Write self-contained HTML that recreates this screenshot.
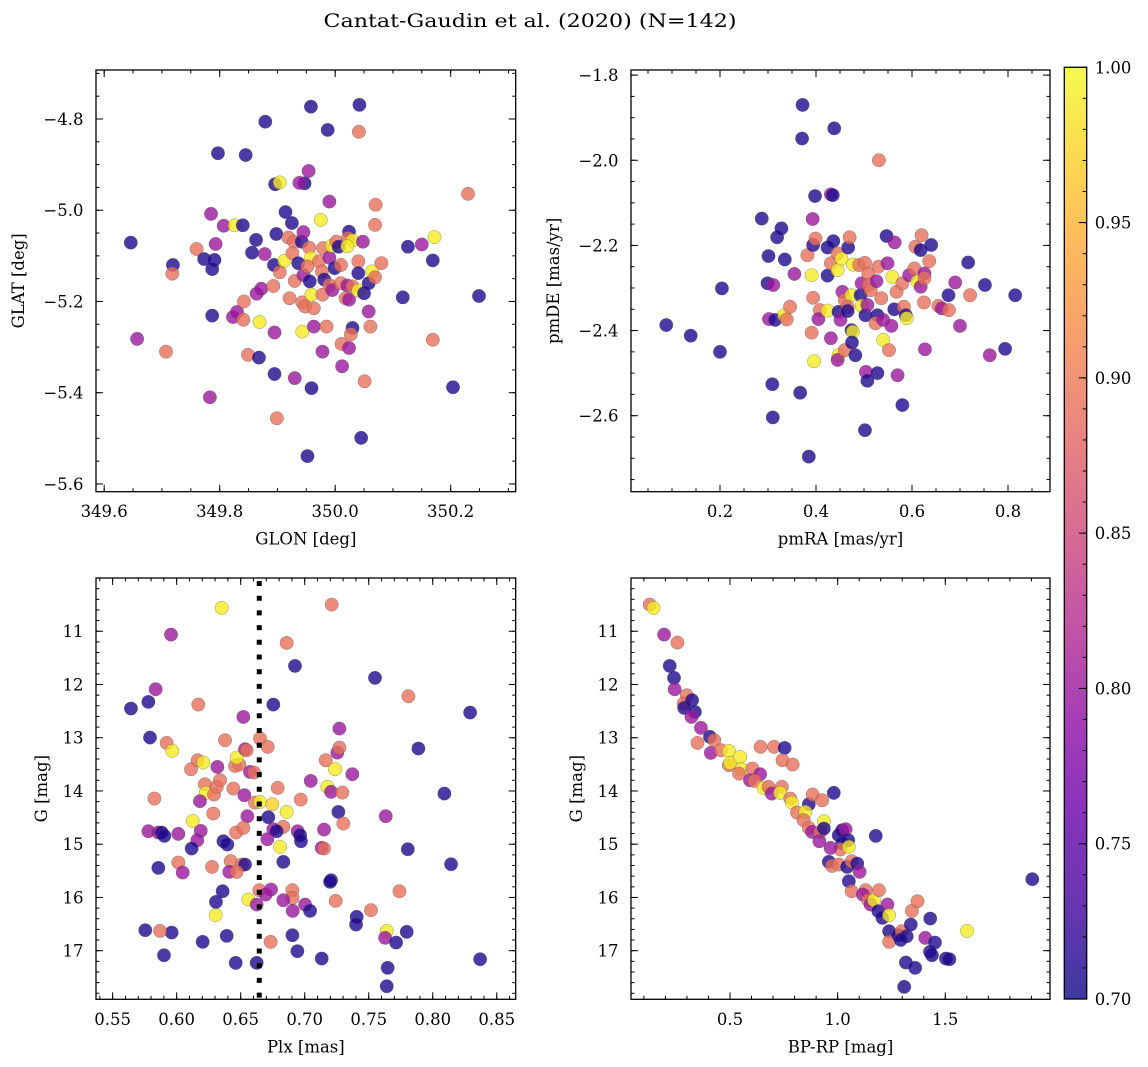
<!DOCTYPE html>
<html><head><meta charset="utf-8"><style>
html,body{margin:0;padding:0;background:#fff;}
svg{display:block;font-family:"DejaVu Serif","Liberation Serif",serif;}
</style></head><body>
<svg id="fig" width="1148" height="1067" viewBox="0 0 1148 1067" xmlns="http://www.w3.org/2000/svg">
<rect width="1148" height="1067" fill="#fff"/>
<text x="530" y="27" text-anchor="middle" font-size="18.5" textLength="413" lengthAdjust="spacingAndGlyphs">Cantat-Gaudin et al. (2020) (N=142)</text>
<defs>
<linearGradient id="plasmaGrad" x1="0" y1="1" x2="0" y2="0">
<stop offset="0" stop-color="#0d0887"/><stop offset="0.1" stop-color="#41049d"/><stop offset="0.2" stop-color="#6a00a8"/><stop offset="0.3" stop-color="#8f0da4"/><stop offset="0.4" stop-color="#b12a90"/><stop offset="0.5" stop-color="#cc4778"/><stop offset="0.6" stop-color="#e16462"/><stop offset="0.7" stop-color="#f2844b"/><stop offset="0.8" stop-color="#fca636"/><stop offset="0.9" stop-color="#fcce25"/><stop offset="1" stop-color="#f0f921"/>
</linearGradient>
</defs>
</svg>
<script>
// ---------- Panel 1 data: GLON / GLAT ----------
const glon = [349.646,349.719,349.718,349.657,349.707,349.760,349.773,349.791,349.787,349.793,
349.785,349.807,349.826,349.840,349.797,349.845,349.879,349.787,349.783,349.823,
349.830,349.841,349.842,349.849,349.863,349.856,349.878,349.864,349.872,349.869,
349.868,349.893,349.894,349.898,349.896,349.904,349.914,349.925,349.912,349.904,
349.919,349.929,349.926,349.930,349.936,349.942,349.945,349.947,349.938,349.954,
349.958,349.895,349.899,349.895,349.921,349.943,349.943,349.948,349.963,349.945,
349.955,349.958,349.952,349.956,349.959,349.963,349.959,349.952,349.930,349.972,
349.979,349.977,349.981,349.978,349.975,349.990,349.987,349.990,349.994,349.990,
349.995,349.985,349.978,350.002,350.006,349.999,350.010,350.010,350.011,350.012,
350.024,350.022,350.030,350.021,350.048,350.021,350.018,350.024,350.030,350.030,
350.027,350.024,350.040,350.040,350.040,350.050,350.058,350.064,350.069,350.080,
350.069,350.070,350.041,350.042,350.058,350.061,350.051,350.045,350.117,350.126,
350.150,350.172,350.169,350.169,350.204,350.230,350.249];
const glat = [-5.071,-5.120,-5.139,-5.282,-5.310,-5.085,-5.107,-5.109,-5.129,-5.074,
-5.008,-5.034,-5.033,-5.033,-4.875,-4.879,-4.806,-5.231,-5.410,-5.234,
-5.223,-5.240,-5.200,-5.317,-5.065,-5.093,-5.096,-5.183,-5.172,-5.245,
-5.323,-5.166,-5.120,-5.052,-4.943,-4.939,-5.004,-5.028,-5.111,-5.136,
-5.060,-5.069,-5.094,-5.155,-5.116,-5.069,-5.048,-4.941,-4.940,-4.914,
-4.773,-5.268,-5.456,-5.359,-5.193,-5.202,-5.266,-5.211,-5.215,-5.142,
-5.082,-5.104,-5.123,-5.156,-5.185,-5.255,-5.390,-5.539,-5.368,-5.112,
-5.083,-5.134,-5.152,-5.185,-5.021,-4.981,-4.824,-5.104,-5.078,-5.164,
-5.175,-5.255,-5.310,-5.069,-5.080,-5.127,-5.120,-5.160,-5.293,-5.342,
-5.047,-5.061,-5.066,-5.079,-5.069,-5.165,-5.193,-5.196,-5.167,-5.258,
-5.272,-5.302,-5.112,-5.138,-5.176,-5.182,-5.160,-5.134,-5.147,-5.116,
-5.032,-4.988,-4.828,-4.769,-5.222,-5.255,-5.375,-5.499,-5.191,-5.080,
-5.075,-5.059,-5.110,-5.284,-5.388,-4.964,-5.188];
const prob1 = [.71,.71,.89,.80,.89,.89,.71,.71,.71,.80,
.80,.80,.99,.71,.71,.71,.71,.71,.80,.80,
.80,.89,.89,.89,.71,.71,.80,.80,.80,.99,
.71,.89,.71,.71,.71,.99,.71,.71,.99,.89,
.89,.89,.89,.89,.71,.71,.80,.71,.80,.80,
.71,.80,.89,.71,.89,.89,.99,.89,.89,.80,
.89,.99,.89,.71,.99,.80,.71,.71,.80,.89,
.89,.89,.71,.89,.99,.80,.71,.80,.99,.89,
.80,.89,.80,.89,.71,.71,.89,.89,.89,.80,
.71,.89,.99,.99,.80,.80,.89,.80,.89,.71,
.89,.80,.89,.71,.99,.71,.71,.99,.89,.89,
.89,.89,.89,.71,.80,.89,.89,.71,.71,.71,
.80,.99,.71,.89,.71,.89,.71];
const glonTicks = [349.6,349.8,350.0,350.2];
const glatTicks = [-4.8,-5.0,-5.2,-5.4,-5.6];

// ---------- Panel 2 data: pmRA / pmDE ----------
const pmra = [0.088,0.139,0.200,0.204,0.287,0.301,0.319,0.328,0.335,0.299,
0.311,0.302,0.315,0.334,0.339,0.346,0.355,0.309,0.310,0.367,
0.372,0.371,0.385,0.382,0.391,0.394,0.399,0.394,0.391,0.396,
0.393,0.398,0.431,0.435,0.438,0.408,0.405,0.424,0.424,0.424,
0.431,0.436,0.445,0.445,0.453,0.447,0.451,0.431,0.447,0.445,
0.460,0.455,0.460,0.467,0.470,0.477,0.474,0.466,0.466,0.474,
0.477,0.475,0.482,0.490,0.502,0.493,0.495,0.495,0.503,0.507,
0.509,0.510,0.514,0.504,0.507,0.502,0.528,0.531,0.530,0.526,
0.528,0.536,0.524,0.540,0.540,0.552,0.549,0.547,0.564,0.559,
0.557,0.563,0.568,0.580,0.583,0.587,0.589,0.570,0.580,0.594,
0.605,0.607,0.618,0.611,0.618,0.626,0.626,0.620,0.640,0.636,
0.625,0.627,0.655,0.662,0.676,0.677,0.690,0.700,0.717,0.721,
0.752,0.762,0.794,0.815];
const pmde = [-2.387,-2.412,-2.450,-2.301,-2.137,-2.225,-2.181,-2.160,-2.233,-2.289,
-2.293,-2.373,-2.375,-2.364,-2.374,-2.344,-2.267,-2.526,-2.604,-2.546,
-1.870,-1.949,-2.696,-2.223,-2.270,-2.199,-2.184,-2.323,-2.405,-2.472,
-2.138,-2.084,-2.080,-2.082,-1.925,-2.352,-2.373,-2.205,-2.271,-2.353,
-2.242,-2.190,-2.219,-2.258,-2.231,-2.356,-2.375,-2.418,-2.458,-2.469,
-2.446,-2.309,-2.328,-2.205,-2.181,-2.245,-2.317,-2.344,-2.354,-2.399,
-2.403,-2.428,-2.458,-2.246,-2.241,-2.317,-2.289,-2.342,-2.364,-2.340,
-2.266,-2.293,-2.305,-2.497,-2.518,-2.634,-2.500,-2.000,-2.250,-2.284,
-2.364,-2.324,-2.383,-2.375,-2.422,-2.446,-2.242,-2.178,-2.193,-2.274,
-2.389,-2.350,-2.309,-2.289,-2.344,-2.364,-2.371,-2.505,-2.575,-2.270,
-2.254,-2.203,-2.211,-2.285,-2.297,-2.266,-2.277,-2.176,-2.199,-2.237,
-2.334,-2.444,-2.342,-2.348,-2.317,-2.352,-2.287,-2.389,-2.240,-2.317,
-2.293,-2.458,-2.443,-2.317];
const prob2 = [.71,.71,.71,.71,.71,.71,.71,.71,.71,.71,
.80,.80,.71,.99,.89,.89,.80,.71,.71,.71,
.71,.71,.71,.89,.99,.71,.89,.89,.89,.99,
.80,.71,.80,.71,.71,.89,.80,.71,.71,.99,
.89,.71,.89,.99,.99,.71,.80,.80,.99,.80,
.89,.80,.89,.71,.89,.99,.99,.89,.71,.71,
.99,.71,.71,.89,.89,.71,.80,.99,.71,.80,
.89,.89,.89,.80,.71,.71,.71,.89,.89,.80,
.71,.89,.89,.80,.99,.89,.80,.71,.80,.99,
.80,.71,.89,.89,.89,.71,.99,.80,.71,.80,
.89,.89,.71,.99,.80,.80,.89,.89,.71,.89,
.89,.80,.89,.80,.71,.89,.80,.80,.71,.89,
.71,.80,.71,.71];
const pmraTicks = [0.2,0.4,0.6,0.8];
const pmdeTicks = [-1.8,-2.0,-2.2,-2.4,-2.6];

// ---------- Panel 3 data: Plx / G ----------
const plx = [0.5643,0.5779,0.5836,0.5792,0.5956,0.6352,0.6169,0.5922,0.5966,0.5826,
0.5779,0.5857,0.5883,0.5904,0.6013,0.5857,0.6013,0.6047,0.6112,0.6164,
0.6208,0.6318,0.6221,0.6227,0.6292,0.6313,0.6339,0.6182,0.6286,0.6125,
0.6188,0.6161,0.6117,0.6378,0.6443,0.6456,0.6490,0.6469,0.6521,0.6534,
0.6547,0.6573,0.6604,0.6529,0.6552,0.6464,0.6521,0.6365,0.6396,0.6276,
0.6422,0.6508,0.6534,0.6411,0.6469,0.6359,0.6307,0.6305,0.6560,0.6625,
0.6646,0.6651,0.6711,0.6612,0.6651,0.6747,0.6716,0.6755,0.6789,0.6859,
0.6833,0.6755,0.6781,0.6708,0.6807,0.6833,0.6737,0.6695,0.6859,0.6924,
0.6969,0.6945,0.6964,0.6971,0.6904,0.6904,0.6833,0.6906,0.6904,0.6734,
0.6943,0.6461,0.6625,0.6203,0.6391,0.5961,0.5870,0.5755,0.5901,0.7003,
0.7042,0.7047,0.7133,0.7151,0.7151,0.7206,0.7198,0.7133,0.7211,0.7164,
0.7255,0.7271,0.7271,0.7237,0.7177,0.7206,0.7294,0.7263,0.7302,0.7372,
0.7242,0.7406,0.7401,0.7518,0.7549,0.7633,0.7641,0.7628,0.7714,0.7648,
0.7641,0.7740,0.7797,0.7805,0.7810,0.7888,0.8091,0.8143,0.8292,0.8370];
const gmag3 = [12.452,12.327,12.089,12.997,11.063,10.562,12.377,13.097,13.247,14.142,
14.756,14.781,14.781,14.844,14.806,15.444,15.344,15.532,13.592,13.423,
13.466,13.548,13.873,14.036,14.067,13.923,13.798,14.192,14.424,14.562,
14.750,14.925,15.081,13.047,13.955,13.529,13.504,13.372,12.609,13.216,
13.235,13.642,13.654,14.080,14.474,14.781,14.693,14.944,15.006,15.426,
15.319,15.382,15.382,15.520,15.520,15.883,16.083,16.333,16.039,16.133,
15.864,13.016,13.172,14.218,14.205,14.249,14.493,12.377,13.942,14.393,
14.674,14.718,14.756,14.906,15.050,15.332,15.851,15.945,11.219,11.651,
14.161,14.756,14.831,14.944,15.864,16.008,16.052,16.252,16.709,16.834,
17.009,17.229,17.229,16.834,16.721,16.659,16.628,16.615,17.085,16.133,
16.252,13.811,15.069,15.081,14.725,15.676,15.707,17.147,10.499,13.423,
13.279,13.185,12.828,13.592,13.923,14.017,14.030,14.393,14.612,13.685,
16.064,16.365,16.509,16.239,11.876,14.474,16.628,16.759,16.847,17.322,
17.667,15.883,16.646,15.094,12.221,13.203,14.049,15.376,12.527,17.160];
const prob3 = [.71,.71,.80,.71,.80,.99,.89,.89,.99,.89,
.80,.80,.71,.71,.80,.71,.89,.80,.89,.89,
.99,.80,.89,.99,.89,.89,.89,.80,.89,.99,
.80,.80,.71,.89,.89,.89,.89,.99,.80,.80,
.89,.80,.89,.80,.80,.89,.89,.71,.71,.89,
.89,.89,.71,.80,.89,.71,.71,.99,.99,.80,
.89,.89,.89,.89,.99,.97,.71,.71,.89,.99,
.89,.80,.71,.80,.99,.71,.80,.80,.89,.71,
.89,.80,.71,.71,.89,.89,.80,.80,.71,.89,
.71,.71,.71,.71,.71,.71,.89,.71,.71,.80,
.71,.80,.80,.89,.80,.71,.71,.71,.89,.89,
.80,.89,.80,.99,.99,.80,.89,.71,.89,.80,
.89,.71,.71,.89,.71,.80,.99,.80,.71,.71,
.71,.89,.71,.71,.89,.71,.71,.71,.71,.71];
const plxTicks = [0.55,0.60,0.65,0.70,0.75,0.80,0.85];
const gTicks = [11,12,13,14,15,16,17];
const plxMean = [0.6645];

// ---------- Panel 4 data: BP-RP / G ----------
const bprp = [0.127,0.145,0.194,0.256,0.220,0.240,0.243,0.299,0.285,0.287,
0.324,0.337,0.321,0.365,0.349,0.407,0.427,0.411,0.458,0.495,
0.495,0.500,0.547,0.554,0.542,0.604,0.640,0.593,0.614,0.642,
0.705,0.754,0.744,0.791,0.656,0.679,0.694,0.741,0.733,0.780,
0.788,0.811,0.866,0.850,0.842,0.884,0.928,0.936,0.982,0.866,
0.881,0.920,0.936,0.915,1.005,1.021,1.037,1.021,1.049,1.013,
1.052,0.967,0.959,0.974,1.005,1.044,1.065,1.091,1.102,1.052,
1.065,1.177,1.130,1.117,1.142,1.153,1.169,1.192,1.189,1.208,
1.231,1.239,1.239,1.239,1.282,1.298,1.321,1.340,1.309,1.317,
1.360,1.345,1.371,1.407,1.430,1.438,1.452,1.429,1.503,1.519,
1.601,1.904,1.293];
const gmag4 = [10.499,10.562,11.063,11.213,11.651,11.876,12.089,12.202,12.358,12.440,
12.296,12.515,12.609,12.815,13.097,12.984,13.047,13.285,13.235,13.247,
13.516,13.473,13.360,13.592,13.673,13.579,13.685,13.798,13.811,13.172,
13.172,13.191,13.423,13.504,13.942,13.923,14.049,13.923,14.036,14.142,
14.218,14.405,14.249,14.393,14.549,14.067,14.174,14.568,14.036,14.693,
14.768,14.768,14.706,14.944,14.831,14.737,14.718,14.987,14.925,15.100,
15.050,15.069,15.332,15.407,15.382,15.426,15.319,15.363,15.520,15.695,
15.883,14.844,15.864,15.945,16.052,16.133,16.052,15.864,16.258,16.383,
16.133,16.333,16.634,16.834,16.709,16.634,16.728,16.509,17.679,17.222,
17.322,16.252,16.071,16.759,16.396,17.085,16.847,17.022,17.147,17.160,
16.628,15.657,16.797];
const prob4 = [.89,.99,.80,.89,.71,.71,.80,.89,.89,.71,
.71,.71,.80,.80,.89,.71,.89,.80,.89,.99,
.89,.99,.99,.99,.89,.89,.80,.80,.89,.89,
.89,.71,.89,.89,.99,.89,.80,.89,.99,.89,
.99,.89,.71,.99,.89,.89,.89,.99,.71,.89,
.80,.89,.71,.80,.71,.71,.80,.71,.71,.89,
.99,.80,.71,.89,.89,.71,.89,.71,.80,.71,
.89,.71,.89,.80,.89,.80,.99,.89,.71,.71,
.80,.99,.71,.89,.71,.89,.71,.71,.71,.71,
.71,.89,.89,.80,.71,.71,.71,.71,.71,.71,
.99,.71,.71];
const bprpTicks = [0.5,1.0,1.5];

// ---------- Colorbar ticks ----------
const cbarTicks = [0.70,0.75,0.80,0.85,0.90,0.95,1.00];
const cbarMin = 0.70, cbarMax = 1.00;

const NS = 'http://www.w3.org/2000/svg';
const svg = document.getElementById('fig');
const plasma = ['#0d0887','#41049d','#6a00a8','#8f0da4','#b12a90','#cc4778','#e16462','#f2844b','#fca636','#fcce25','#f0f921'];
function hex(h){return [parseInt(h.substr(1,2),16),parseInt(h.substr(3,2),16),parseInt(h.substr(5,2),16)];}
function cmap(p){
  let t=(p-cbarMin)/(cbarMax-cbarMin); t=Math.max(0,Math.min(1,t));
  const f=t*10, i=Math.min(9,Math.floor(f)), u=f-i;
  const a=hex(plasma[i]), b=hex(plasma[i+1]);
  return 'rgb('+a.map((v,k)=>Math.round(v+(b[k]-v)*u)).join(',')+')';
}
function mk(tag, attrs, parent){
  const e=document.createElementNS(NS,tag);
  for(const k in attrs) e.setAttribute(k, attrs[k]);
  (parent||svg).appendChild(e); return e;
}
function fmt(v,d){const s=Math.abs(v).toFixed(d); return (v<-1e-9?'\u2212':'')+s;}

function panel(o){
  const g=mk('g',{});
  
  
  const sx=v=>o.L+(v-o.xd[0])/(o.xd[1]-o.xd[0])*(o.R-o.L);
  const sy=v=>o.T+(v-o.yd[0])/(o.yd[1]-o.yd[0])*(o.B-o.T);
  const cid='clip-'+o.name;
  const cp=mk('clipPath',{id:cid},g); mk('rect',{x:o.L,y:o.T,width:o.R-o.L,height:o.B-o.T},cp);
  const pts=mk('g',{'clip-path':'url(#'+cid+')'},g);
  
  
  for(let i=0;i<o.xs.length;i++){
    const c=mk('circle',{cx:sx(o.xs[i]).toFixed(2),cy:sy(o.ys[i]).toFixed(2),r:6.7,fill:cmap(o.ps[i]),'fill-opacity':0.8,stroke:'#555','stroke-width':0.5,'stroke-opacity':0.6},pts);
    
    
  }
  if(o.vline){
    for(const v of o.vline){
      const ln=mk('line',{x1:sx(v),x2:sx(v),y1:o.T+3,y2:o.B,stroke:'#000','stroke-width':5,'stroke-dasharray':'5 9.7'},pts);
      
      
    }
  }
  const tk=mk('g',{stroke:'#000','stroke-width':1},g);
  
  
  const lo=Math.min(...o.xd), hi=Math.max(...o.xd);
  for(let k=Math.ceil(lo/o.xm-1e-6);k<=Math.floor(hi/o.xm+1e-6);k++){
    const x=sx(k*o.xm); mk('line',{x1:x,x2:x,y1:o.B,y2:o.B-3.5},tk); mk('line',{x1:x,x2:x,y1:o.T,y2:o.T+3.5},tk);
  }
  const ylo=Math.min(...o.yd), yhi=Math.max(...o.yd);
  for(let k=Math.ceil(ylo/o.ym-1e-6);k<=Math.floor(yhi/o.ym+1e-6);k++){
    const y=sy(k*o.ym); mk('line',{x1:o.L,x2:o.L+3.5,y1:y,y2:y},tk); mk('line',{x1:o.R,x2:o.R-3.5,y1:y,y2:y},tk);
  }
  for(const v of o.xt){
    const x=sx(v); mk('line',{x1:x,x2:x,y1:o.B,y2:o.B-7},tk); mk('line',{x1:x,x2:x,y1:o.T,y2:o.T+7},tk);
    const t=mk('text',{x:x,y:o.B+25.5,'text-anchor':'middle','font-size':16.5},g); t.textContent=fmt(v,o.xdig);
    
    
  }
  for(const v of o.yt){
    const y=sy(v); mk('line',{x1:o.L,x2:o.L+7,y1:y,y2:y},tk); mk('line',{x1:o.R,x2:o.R-7,y1:y,y2:y},tk);
    const t=mk('text',{x:o.L-12.5,y:y+6,'text-anchor':'end','font-size':16.5},g); t.textContent=fmt(v,o.ydig);
    
    
  }
  const fr=mk('rect',{x:o.L,y:o.T,width:o.R-o.L,height:o.B-o.T,fill:'none',stroke:'#000','stroke-width':1.3},g);
  
  
  const xl=mk('text',{x:(o.L+o.R)/2,y:o.B+53,'text-anchor':'middle','font-size':16.5},g); xl.textContent=o.xlab;
  
  
  const yc=(o.T+o.B)/2;
  const yl=mk('text',{x:o.ylx,y:yc,'text-anchor':'middle','font-size':16.5,transform:'rotate(-90 '+o.ylx+' '+yc+')'},g); yl.textContent=o.ylab;
  
  
}

panel({name:'glon-glat-panel',L:96,R:515.7,T:70,B:491.7,xd:[349.5858,350.3126],yd:[-4.6926,-5.617],
  xs:glon,ys:glat,ps:prob1,xt:glonTicks,yt:glatTicks,xm:0.05,ym:0.05,xdig:1,ydig:1,xlab:'GLON [deg]',ylab:'GLAT [deg]',ylx:24});
panel({name:'pm-panel',L:631,R:1050,T:70,B:491.7,xd:[0.0146,0.8875],yd:[-1.788,-2.7785],
  xs:pmra,ys:pmde,ps:prob2,xt:pmraTicks,yt:pmdeTicks,xm:0.05,ym:0.05,xdig:1,ydig:1,xlab:'pmRA [mas/yr]',ylab:'pmDE [mas/yr]',ylx:559});
panel({name:'plx-g-panel',L:96,R:515.7,T:578,B:999.3,xd:[0.537,0.8648],yd:[10.0,17.913],
  xs:plx,ys:gmag3,ps:prob3,xt:plxTicks,yt:gTicks,xm:0.01,ym:0.2,xdig:2,ydig:0,xlab:'Plx [mas]',ylab:'G [mag]',ylx:47,vline:plxMean});
panel({name:'cmd-panel',L:631,R:1050,T:578,B:999.3,xd:[0.0402,1.9863],yd:[10.0,17.913],
  xs:bprp,ys:gmag4,ps:prob4,xt:bprpTicks,yt:gTicks,xm:0.1,ym:0.2,xdig:1,ydig:0,xlab:'BP-RP [mag]',ylab:'G [mag]',ylx:582});

// colorbar
(function(){
  const L=1064.3,R=1086.7,T=67.3,B=999;
  const g=mk('g',{});
  
  
  mk('rect',{x:L,y:T,width:R-L,height:B-T,fill:'url(#plasmaGrad)','fill-opacity':0.8},g);
  const sy=v=>B-(v-cbarMin)/(cbarMax-cbarMin)*(B-T);
  for(let k=70;k<=100;k++){ const y=sy(k/100); mk('line',{x1:R,x2:R-4,y1:y,y2:y,stroke:'#000','stroke-width':1},g); }
  for(const v of cbarTicks){
    const y=sy(v); mk('line',{x1:R,x2:R-8,y1:y,y2:y,stroke:'#000','stroke-width':1},g);
    const t=mk('text',{x:R+8,y:y+6,'font-size':16.5},g); t.textContent=v.toFixed(2);
    
    
  }
  mk('rect',{x:L,y:T,width:R-L,height:B-T,fill:'none',stroke:'#000','stroke-width':1.3},g);
})();
</script>
</body></html>
